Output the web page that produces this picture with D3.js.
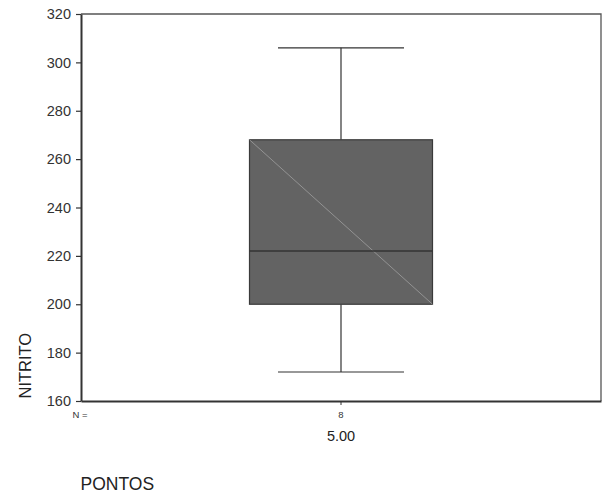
<!DOCTYPE html>
<html>
<head>
<meta charset="utf-8">
<script src="https://cdn.jsdelivr.net/npm/d3@7"></script>
<style>
  body { margin: 0; background: #fff; }
  svg { display: block; font-family: Arial, "Liberation Sans", sans-serif; }
</style>
</head>
<body>
<svg id="chart" width="606" height="497"></svg>
<script>
// Box plot of NITRITO for sampling point 5.00
const categories = ["5.00"];
const counts = [8];
const whiskerLow = [172];
const q1 = [200];
const medians = [222];
const q3 = [268];
const whiskerHigh = [306];
const yTicks = [160, 180, 200, 220, 240, 260, 280, 300, 320];

const svg = d3.select("#chart");
const m = { left: 81, top: 14, right: 601, bottom: 401 };

const y = d3.scaleLinear().domain([160, 320]).range([m.bottom, m.top]);
const x = d3.scaleBand().domain(categories).range([m.left, m.right]).paddingInner(0).paddingOuter(0);

// frame (top and right)
svg.append("path")
  .attr("d", `M${m.left},${m.top}H${m.right}V${m.bottom}`)
  .attr("fill", "none").attr("stroke", "#555").attr("stroke-width", 1.3);

// y axis
const yAxis = svg.append("g")
  .attr("transform", `translate(${m.left},0)`)
  .call(d3.axisLeft(y).tickValues(yTicks).tickSize(5).tickPadding(5).tickSizeOuter(0).tickFormat(d3.format("d")));
yAxis.select(".domain").attr("stroke", "#333").attr("stroke-width", 2);
yAxis.selectAll(".tick line").attr("stroke", "#333").attr("stroke-width", 1.2);
yAxis.selectAll(".tick text").attr("fill", "#333").attr("font-size", 14.5);

// x axis
const xAxis = svg.append("g")
  .attr("transform", `translate(0,${m.bottom})`)
  .call(d3.axisBottom(x).tickSize(4).tickSizeOuter(0).tickFormat(() => ""));
xAxis.select(".domain").attr("stroke", "#333").attr("stroke-width", 2);
xAxis.selectAll(".tick line").attr("stroke", "#333");

// case counts
svg.append("text").attr("x", 80).attr("y", 417.5)
  .attr("text-anchor", "middle").attr("font-size", 9.5).attr("fill", "#333").text("N =");
svg.selectAll(".count").data(categories).join("text")
  .attr("class", "count")
  .attr("x", d => x(d) + x.bandwidth() / 2).attr("y", 417.5)
  .attr("text-anchor", "middle").attr("font-size", 9.5).attr("fill", "#333")
  .text((d, i) => counts[i]);

// category labels
svg.selectAll(".cat").data(categories).join("text")
  .attr("class", "cat")
  .attr("x", d => x(d) + x.bandwidth() / 2).attr("y", 441)
  .attr("text-anchor", "middle").attr("font-size", 14.5).attr("fill", "#222").text(d => d);

// axis titles
svg.append("text").attr("transform", `translate(30.5,398.5) rotate(-90)`)
  .attr("font-size", 16.5).attr("fill", "#222").text("NITRITO");
svg.append("text").attr("x", 80.5).attr("y", 490)
  .attr("font-size", 17.5).attr("fill", "#222").text("PONTOS");

// boxes
const boxW = 183, capW = 126;
const g = svg.selectAll(".box").data(categories).join("g").attr("class", "box");
g.each(function (d, i) {
  const cx = x(d) + x.bandwidth() / 2;
  const s = d3.select(this);
  s.append("line").attr("x1", cx).attr("x2", cx).attr("y1", y(whiskerHigh[i])).attr("y2", y(q3[i]))
    .attr("stroke", "#333").attr("stroke-width", 1.2);
  s.append("line").attr("x1", cx).attr("x2", cx).attr("y1", y(q1[i])).attr("y2", y(whiskerLow[i]))
    .attr("stroke", "#333").attr("stroke-width", 1.2);
  s.append("line").attr("x1", cx - capW / 2).attr("x2", cx + capW / 2)
    .attr("y1", y(whiskerHigh[i])).attr("y2", y(whiskerHigh[i])).attr("stroke", "#333").attr("stroke-width", 1.2);
  s.append("line").attr("x1", cx - capW / 2).attr("x2", cx + capW / 2)
    .attr("y1", y(whiskerLow[i])).attr("y2", y(whiskerLow[i])).attr("stroke", "#333").attr("stroke-width", 1.2);
  s.append("rect").attr("x", cx - boxW / 2).attr("y", y(q3[i]))
    .attr("width", boxW).attr("height", y(q1[i]) - y(q3[i]))
    .attr("fill", "#636363").attr("stroke", "#3a3a3a").attr("stroke-width", 1.2);
  s.append("line").attr("x1", cx - boxW / 2).attr("y1", y(q3[i]))
    .attr("x2", cx + boxW / 2).attr("y2", y(q1[i]))
    .attr("stroke", "#a8a8a8").attr("stroke-width", 0.7);
  s.append("line").attr("x1", cx - boxW / 2).attr("x2", cx + boxW / 2)
    .attr("y1", y(medians[i])).attr("y2", y(medians[i]))
    .attr("stroke", "#333").attr("stroke-width", 1.5);
});
</script>
</body>
</html>
